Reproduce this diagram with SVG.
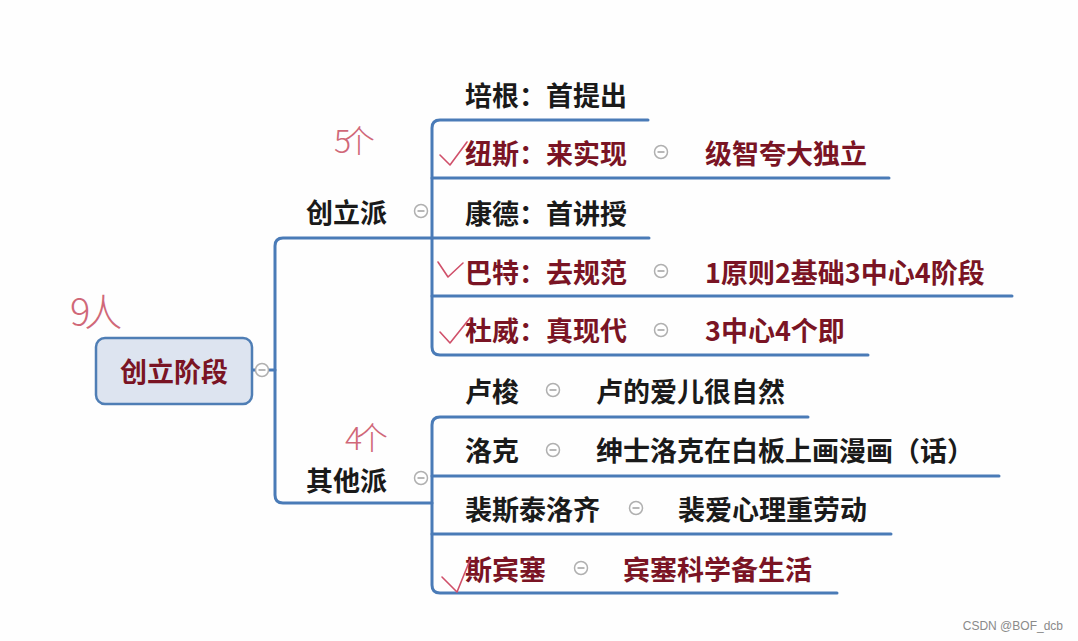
<svg xmlns="http://www.w3.org/2000/svg" width="1078" height="641" viewBox="0 0 1078 641">
<style>
.ln{fill:none;stroke:#4a7bb7;stroke-width:3;stroke-linecap:round}
.t{font-family:"Noto Sans CJK SC","Noto Sans",sans-serif;font-weight:700;font-size:27px;dominant-baseline:central}
.k{fill:#1a1a1a}
.r{fill:#7a1424}
.cc{fill:#fff;stroke:#b0b0b0;stroke-width:1.5}
.cm{stroke:#a0a0a0;stroke-width:1.5}
.hw{font-family:"Noto Sans CJK SC",sans-serif;font-weight:300;fill:#d06878}
.ck{fill:none;stroke:#d0506a;stroke-width:1.6;stroke-linecap:round;stroke-linejoin:round}
</style>
<defs>
<g id="col"><circle class="cc" r="6.5"/><line class="cm" x1="-3.5" y1="0" x2="3.5" y2="0"/></g>
</defs>
<rect width="1078" height="641" fill="#fefefe"/>
<g id="connectors">
<path class="ln" d="M253,370 H275"/>
<path class="ln" d="M432,238 H283 Q275,238 275,246 V495 Q275,503 283,503 H432"/>
<path class="ln" d="M648,120 H440 Q432,120 432,128 V347 Q432,355 440,355 H868"/>
<path class="ln" d="M432,178 H889"/>
<path class="ln" d="M432,238 H649"/>
<path class="ln" d="M432,296 H1012"/>
<path class="ln" d="M808,417 H440 Q432,417 432,425 V585 Q432,593 440,593 H837"/>
<path class="ln" d="M432,476 H999"/>
<path class="ln" d="M432,534 H891"/>
</g>
<g id="root">
<rect x="96" y="338" width="156" height="66" rx="9" fill="#dde4f0" stroke="#4f7eb5" stroke-width="2.5"/>
<text class="t r" x="174" y="370" text-anchor="middle" font-size="28">创立阶段</text>
<use href="#col" x="262" y="370"/>
</g>
<g id="chuangli">
<text class="t k" x="306" y="211">创立派</text>
<use href="#col" x="421" y="211"/>
</g>
<g id="qita">
<text class="t k" x="306" y="479">其他派</text>
<use href="#col" x="421" y="478"/>
</g>
<g id="peigen"><text class="t k" x="465" y="94">培根：首提出</text></g>
<g id="niusi">
<text class="t r" x="465" y="152">纽斯：来实现</text>
<use href="#col" x="661" y="152"/>
<text class="t r" x="705" y="152">级智夸大独立</text>
</g>
<g id="kangde"><text class="t k" x="465" y="212">康德：首讲授</text></g>
<g id="bate">
<text class="t r" x="465" y="271">巴特：去规范</text>
<use href="#col" x="661" y="271"/>
<text class="t r" x="705" y="271">1原则2基础3中心4阶段</text>
</g>
<g id="duwei">
<text class="t r" x="465" y="329">杜威：真现代</text>
<use href="#col" x="661" y="330"/>
<text class="t r" x="705" y="329">3中心4个即</text>
</g>
<g id="lusuo">
<text class="t k" x="465" y="390">卢梭</text>
<use href="#col" x="553" y="390"/>
<text class="t k" x="596" y="390">卢的爱儿很自然</text>
</g>
<g id="luoke">
<text class="t k" x="465" y="449">洛克</text>
<use href="#col" x="553" y="450"/>
<text class="t k" x="596" y="449">绅士洛克在白板上画漫画（话）</text>
</g>
<g id="pei">
<text class="t k" x="465" y="508">裴斯泰洛齐</text>
<use href="#col" x="636" y="508"/>
<text class="t k" x="678" y="508">裴爱心理重劳动</text>
</g>
<g id="sibinsai">
<text class="t r" x="465" y="568">斯宾塞</text>
<use href="#col" x="581" y="568"/>
<text class="t r" x="623" y="568">宾塞科学备生活</text>
</g>
<g id="annotations">
<text class="hw" x="70" y="326" font-size="38" letter-spacing="-6">9人</text>
<text class="hw" x="334" y="153" font-size="32" letter-spacing="-8">5个</text>
<text class="hw" x="345" y="450" font-size="32" letter-spacing="-6">4个</text>
<path class="ck" d="M440,155 L450,165 L467,142"/>
<path class="ck" d="M438,262 L448,277 L463,263"/>
<path class="ck" d="M440,332 L450,343 L470,318"/>
<path class="ck" d="M442,577 L457,592 L470,560"/>
</g>
<text x="1063" y="630" text-anchor="end" font-family="Liberation Sans,Arial,sans-serif" font-size="12" fill="#8a8a8a">CSDN @BOF_dcb</text>
</svg>
